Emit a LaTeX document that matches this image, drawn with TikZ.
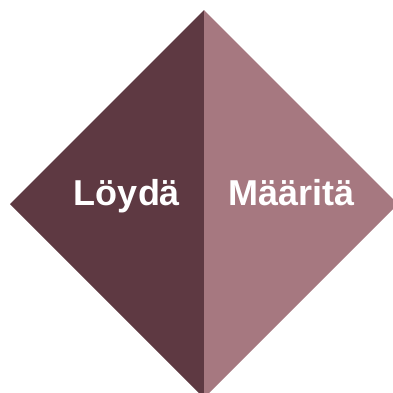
\documentclass[tikz,border=0pt]{standalone}
\usepackage{fontspec}
\setmainfont{Liberation Sans}
\definecolor{leftc}{HTML}{5E3942}
\definecolor{rightc}{HTML}{A67880}
\tikzset{lbl/.style={text=white, font=\fontsize{36}{40}\selectfont\bfseries, inner sep=0pt, anchor=base}}
\begin{document}
\begin{tikzpicture}[x=1pt,y=-1pt]
\useasboundingbox (0,0) rectangle (393,392);
\clip (0,0) rectangle (393,392);
\coordinate (T) at (204,10);
\coordinate (L) at (10,204);
\coordinate (R) at (398,204);
\coordinate (B) at (204,398);
\fill[leftc] (T) -- (L) -- (B) -- cycle;
\fill[rightc] (T) -- (R) -- (B) -- cycle;
\node[lbl] (loyda) at (127,205) {Löydä};
\node[lbl] (maarita) at (291.5,205) {Määritä};
\end{tikzpicture}
\end{document}
